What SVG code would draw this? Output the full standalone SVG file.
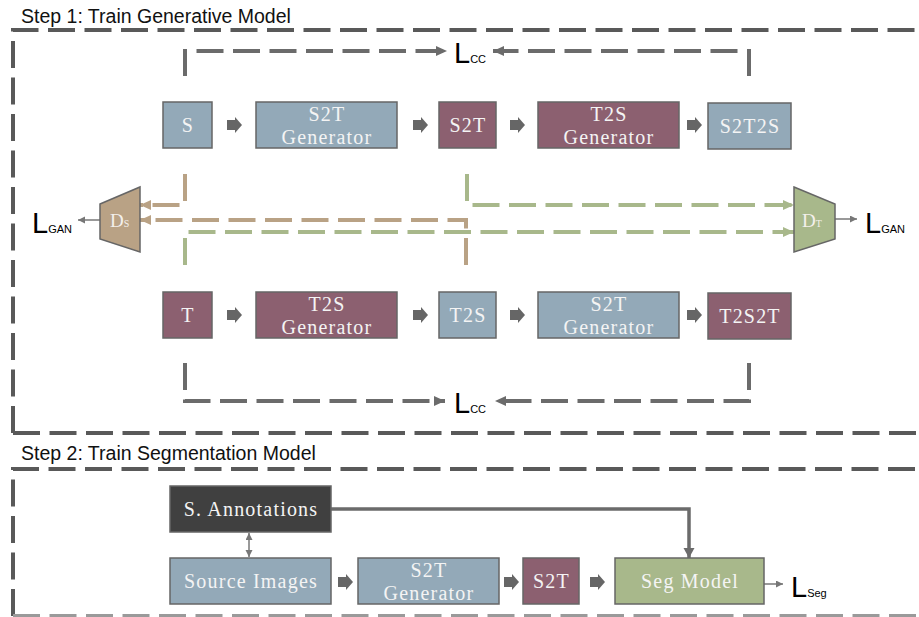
<svg xmlns="http://www.w3.org/2000/svg" width="919" height="617" viewBox="0 0 919 617">
<style>
.title{font-family:"Liberation Sans",Arial,sans-serif;font-size:19.5px;fill:#111}
.frame{fill:none;stroke:#595959;stroke-width:4;stroke-dasharray:27 9.5}
.box{stroke:#666;stroke-width:1.5}
.blue{fill:#93A9B8}
.mar{fill:#8C6070}
.grn{fill:#A8B88B}
.tan{fill:#B9A285}
.dark{fill:#404040}
.lbl{font-family:"Liberation Serif","Times New Roman",serif;font-size:20px;letter-spacing:1.2px;fill:#F4F4F4;text-anchor:middle}
.dl{font-family:"Liberation Serif","Times New Roman",serif;font-size:19px;fill:#F4F0EC}
.loss{font-family:"Liberation Sans",Arial,sans-serif;font-size:29px;fill:#000}
.sub{font-size:11px}
.dg{fill:none;stroke:#6B6B6B;stroke-width:4;stroke-dasharray:27 9.5}
.dt{fill:none;stroke:#B9A285;stroke-width:4;stroke-dasharray:27 9.5}
.dgr{fill:none;stroke:#A8B88B;stroke-width:4;stroke-dasharray:27 9.5}
.thin{fill:none;stroke:#777;stroke-width:1.5}
.blk{fill:#666}
</style>
<defs>
<marker id="ag" markerUnits="userSpaceOnUse" markerWidth="12" markerHeight="12" refX="11" refY="5" orient="auto"><path d="M0,0 L11,5 L0,10 Z" fill="#6B6B6B"/></marker>
<marker id="at" markerUnits="userSpaceOnUse" markerWidth="12" markerHeight="12" refX="11" refY="5" orient="auto"><path d="M0,0 L11,5 L0,10 Z" fill="#B9A285"/></marker>
<marker id="agr" markerUnits="userSpaceOnUse" markerWidth="12" markerHeight="12" refX="11" refY="5" orient="auto"><path d="M0,0 L11,5 L0,10 Z" fill="#A8B88B"/></marker>
<marker id="as" markerUnits="userSpaceOnUse" markerWidth="8" markerHeight="8" refX="7" refY="3.5" orient="auto-start-reverse"><path d="M0,0 L7,3.5 L0,7 Z" fill="#777"/></marker>
<marker id="ak" markerUnits="userSpaceOnUse" markerWidth="12" markerHeight="12" refX="10" refY="5.5" orient="auto"><path d="M0,0 L10,5.5 L0,11 Z" fill="#6B6B6B"/></marker>
<path id="ba" d="M0,-5 H8 V-8 L15,0 L8,8 V5 H0 Z"/>
</defs>

<text class="title" x="21" y="23">Step 1: Train Generative Model</text>
<text class="title" x="21" y="460">Step 2: Train Segmentation Model</text>
<path class="frame" d="M13,433 V30 H935"/>
<path class="frame" d="M13,433 H935"/>
<path class="frame" d="M13,616 V469 H935"/>
<path class="frame" d="M13,616 H935" style="stroke:#9a9a9a"/>

<g id="connectors">
<path class="dg" d="M185,76 V51 H447" marker-end="url(#ag)"/>
<path class="dg" d="M749,76 V51 H493" marker-end="url(#ag)"/>
<path class="dg" d="M185,363 V401 H445" marker-end="url(#ag)"/>
<path class="dg" d="M749,363 V401 H495" marker-end="url(#ag)"/>
<path class="dt" d="M185,174 V205 H140" marker-end="url(#at)"/>
<path class="dt" d="M466,265 V220 H140" marker-end="url(#at)"/>
<path class="dgr" d="M467,174 V205 H794" marker-end="url(#agr)"/>
<path class="dgr" d="M185,265 V232 H794" marker-end="url(#agr)"/>
<path class="thin" d="M100,220 H78" marker-end="url(#as)"/>
<path class="thin" d="M835,219 H857" marker-end="url(#as)"/>
<path class="thin" d="M764,584 H783" marker-end="url(#as)"/>
<path class="thin" d="M249,533 V557" marker-start="url(#as)" marker-end="url(#as)"/>
<path d="M331,509 H689 V558" fill="none" stroke="#6B6B6B" stroke-width="3.5" marker-end="url(#ak)"/>
<use href="#ba" class="blk" x="227" y="125"/>
<use href="#ba" class="blk" x="413" y="125"/>
<use href="#ba" class="blk" x="510" y="125"/>
<use href="#ba" class="blk" x="687" y="125"/>
<use href="#ba" class="blk" x="227" y="315"/>
<use href="#ba" class="blk" x="413" y="315"/>
<use href="#ba" class="blk" x="510" y="315"/>
<use href="#ba" class="blk" x="687" y="315"/>
<use href="#ba" class="blk" x="338" y="582"/>
<use href="#ba" class="blk" x="504" y="582"/>
<use href="#ba" class="blk" x="590" y="582"/>
</g>

<g id="n-S"><rect class="box blue" x="163" y="102" width="49" height="46"/><text class="lbl" x="188" y="131.5">S</text></g>
<g id="n-S2TGen"><rect class="box blue" x="256" y="102" width="141" height="46"/><text class="lbl" x="327" y="121">S2T</text><text class="lbl" x="327" y="144">Generator</text></g>
<g id="n-S2T"><rect class="box mar" x="439" y="102" width="57" height="46"/><text class="lbl" x="468" y="131.5">S2T</text></g>
<g id="n-T2SGen"><rect class="box mar" x="538" y="102" width="141" height="46"/><text class="lbl" x="609" y="121">T2S</text><text class="lbl" x="609" y="144">Generator</text></g>
<g id="n-S2T2S"><rect class="box blue" x="708" y="103" width="83" height="46"/><text class="lbl" x="750" y="132.5">S2T2S</text></g>

<g id="n-T"><rect class="box mar" x="163" y="292" width="49" height="46"/><text class="lbl" x="188" y="321.5">T</text></g>
<g id="n-T2SGen2"><rect class="box mar" x="256" y="292" width="141" height="46"/><text class="lbl" x="327" y="311">T2S</text><text class="lbl" x="327" y="334">Generator</text></g>
<g id="n-T2S"><rect class="box blue" x="439" y="292" width="57" height="46"/><text class="lbl" x="468" y="321.5">T2S</text></g>
<g id="n-S2TGen2"><rect class="box blue" x="538" y="292" width="141" height="46"/><text class="lbl" x="609" y="311">S2T</text><text class="lbl" x="609" y="334">Generator</text></g>
<g id="n-T2S2T"><rect class="box mar" x="708" y="293" width="83" height="46"/><text class="lbl" x="750" y="322.5">T2S2T</text></g>

<g id="n-DS"><path class="box tan" d="M100,204 L140,187 L140,252 L100,239 Z"/><text class="dl" x="110" y="227">D<tspan font-size="10">S</tspan></text></g>
<g id="n-DT"><path class="box grn" d="M794,187 L835,204 L835,239 L794,252 Z"/><text class="dl" x="802" y="227">D<tspan font-size="10">T</tspan></text></g>

<g id="n-LccTop"><text class="loss" x="454" y="63">L<tspan class="sub">CC</tspan></text></g>
<g id="n-LccBot"><text class="loss" x="454" y="413">L<tspan class="sub">CC</tspan></text></g>
<g id="n-LganL"><text class="loss" x="32" y="233">L<tspan class="sub">GAN</tspan></text></g>
<g id="n-LganR"><text class="loss" x="865" y="233">L<tspan class="sub">GAN</tspan></text></g>

<g id="n-SAnn"><rect class="box dark" x="170" y="486" width="161" height="46"/><text class="lbl" x="251" y="515.5">S. Annotations</text></g>
<g id="n-SrcImg"><rect class="box blue" x="170" y="558" width="161" height="46"/><text class="lbl" x="251" y="587.5">Source Images</text></g>
<g id="n-S2TGen3"><rect class="box blue" x="358" y="558" width="141" height="46"/><text class="lbl" x="429" y="577">S2T</text><text class="lbl" x="429" y="600">Generator</text></g>
<g id="n-S2T3"><rect class="box mar" x="523" y="558" width="56" height="46"/><text class="lbl" x="551.5" y="587.5">S2T</text></g>
<g id="n-Seg"><rect class="box grn" x="615" y="558" width="149" height="46"/><text class="lbl" x="690" y="587.5">Seg Model</text></g>
<g id="n-Lseg"><text class="loss" x="791" y="597">L<tspan class="sub">Seg</tspan></text></g>
</svg>
